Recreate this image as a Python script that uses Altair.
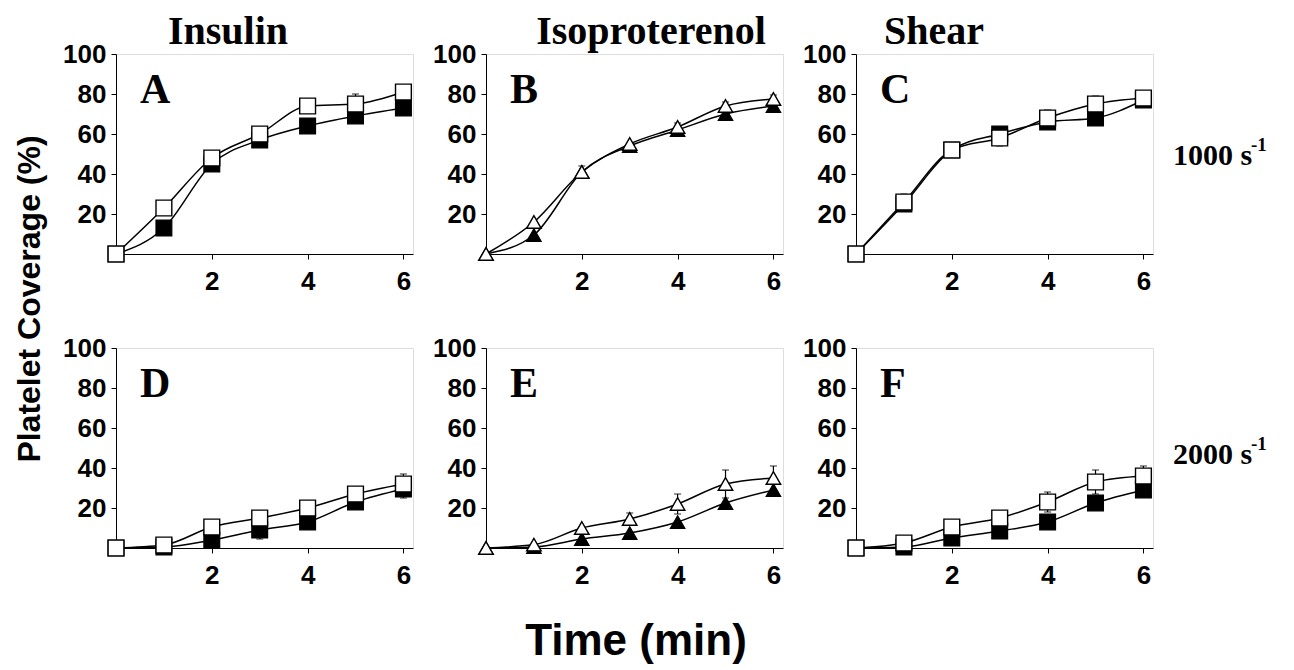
import altair as alt
import pandas as pd

# ---- data ----
t = [0, 1, 2, 3, 4, 5, 6]

A_open = [0, 23, 48, 60, 74, 75, 81]
A_filled = [0, 13, 45, 57, 64, 69, 73]
A_open_err = [0, 0, 0, 0, 0, 5, 0]
A_filled_err = [0, 0, 2, 0, 0, 0, 0]

B_open = [0, 16, 41, 55, 63.5, 74, 77.5]
B_filled = [0, 9.5, 41, 54, 62, 70, 74]
B_open_err = [0, 0, 3, 0, 2, 2, 2]
B_filled_err = [0, 0, 0, 0, 0, 0, 0]

C_open = [0, 26, 52, 58, 68, 75, 78]
C_filled = [0, 25, 52, 60, 66, 68, 77]
C_open_err = [0, 4, 0, 4, 4, 4, 0]
C_filled_err = [0, 0, 0, 0, 0, 0, 0]

D_open = [0, 1.5, 10.5, 15, 20, 27, 32]
D_filled = [0, 0.5, 4, 9, 13, 23, 29.5]
D_open_err = [0, 0, 0, 3.5, 3.5, 0, 5]
D_filled_err = [0, 0, 0, 4.5, 0, 0, 4.5]

E_open = [0, 1.7, 10, 14.5, 22, 32, 35]
E_filled = [0, 0.5, 4.5, 7.5, 13, 22.5, 29]
E_open_err = [0, 0, 0, 3, 5, 7, 6]
E_filled_err = [0, 0, 0, 0, 0, 0, 0]

F_open = [0, 2.5, 10.5, 15, 23, 33, 36]
F_filled = [0, 0.5, 5, 8.5, 13, 22.5, 29]
F_open_err = [0, 0, 0, 3, 5, 6, 5]
F_filled_err = [0, 0, 0, 0, 0, 0, 0]

col_titles = ["Insulin", "Isoproterenol", "Shear"]
letters = ["A", "B", "C", "D", "E", "F"]
row_labels = ["1000 s", "2000 s"]
row_sup = "-1"
y_title = "Platelet Coverage (%)"
x_title = "Time (min)"
y_ticks = [0, 20, 40, 60, 80, 100]
x_ticks = [0, 2, 4, 6]

SANS = "Liberation Sans"
SERIF = "Liberation Serif"
W, H = 297, 200

x_enc = alt.X("t:Q", scale=alt.Scale(domain=[0, 6.2], nice=False),
              axis=alt.Axis(values=x_ticks, labelExpr="datum.value == 0 ? '' : datum.label",
                            title=None, grid=False, domainColor="black", tickColor="black",
                            tickSize=5, labelFont=SANS, labelFontWeight="bold", labelFontSize=26,
                            labelColor="black", labelPadding=9, labelFlush=False))
y_axis = alt.Axis(values=y_ticks, labelExpr="datum.value == 0 ? '' : datum.label",
                  title=None, grid=False, domainColor="black", tickColor="black",
                  tickSize=5, labelFont=SANS, labelFontWeight="bold", labelFontSize=26,
                  labelColor="black", labelPadding=5, labelFlush=False)
y_scale = alt.Scale(domain=[0, 100], nice=False)


def text_layer(txt, x, y, font, size, align="left", angle=0, baseline="alphabetic"):
    return alt.Chart(pd.DataFrame({"s": [txt]})).mark_text(
        font=font, fontSize=size, fontWeight="bold", color="black",
        align=align, baseline=baseline, angle=angle
    ).encode(text="s:N", x=alt.value(x), y=alt.value(y))


def panel(open_v, filled_v, open_e, filled_e, shape, size, letter, extras):
    rows = []
    for series, vals, errs in (("filled", filled_v, filled_e), ("open", open_v, open_e)):
        for ti, v, e in zip(t, vals, errs):
            rows.append({"t": ti, "v": v, "e": e, "lo": v - e, "hi": v + e, "series": series})
    df = pd.DataFrame(rows)
    base = alt.Chart(df)
    y_enc = alt.Y("v:Q", scale=y_scale, axis=y_axis)
    lines = base.mark_line(interpolate="monotone", color="black", strokeWidth=1.5).encode(
        x=x_enc, y=y_enc, detail="series:N")
    errb = base.transform_filter("datum.e > 0")
    rules = errb.mark_rule(color="black", strokeWidth=1.2).encode(
        x=x_enc, y=alt.Y("lo:Q", scale=y_scale, axis=y_axis), y2="hi:Q")
    cap_hi = errb.mark_tick(orient="horizontal", size=7, thickness=1.2, color="black").encode(
        x=x_enc, y=alt.Y("hi:Q", scale=y_scale, axis=y_axis))
    cap_lo = errb.mark_tick(orient="horizontal", size=7, thickness=1.2, color="black").encode(
        x=x_enc, y=alt.Y("lo:Q", scale=y_scale, axis=y_axis))
    pf = base.transform_filter("datum.series == 'filled'").mark_point(
        shape=shape, filled=True, size=size, fill="black", stroke="black", strokeWidth=1.2,
        opacity=1).encode(x=x_enc, y=y_enc)
    po = base.transform_filter("datum.series == 'open'").mark_point(
        shape=shape, filled=True, size=size, fill="white", stroke="black", strokeWidth=1.4,
        opacity=1).encode(x=x_enc, y=y_enc)
    lt = text_layer(letter, 24, 49, SERIF, 42)
    return alt.layer(lines, rules, cap_hi, cap_lo, pf, po, lt, *extras).properties(width=W, height=H)


panels = [
    panel(A_open, A_filled, A_open_err, A_filled_err, "square", 250, letters[0], [
        text_layer(col_titles[0], 112, -10, SERIF, 40, align="center"),
        text_layer(y_title, -86, 245, SANS, 32, align="center", angle=270, baseline="middle"),
    ]),
    panel(B_open, B_filled, B_open_err, B_filled_err, "triangle-up", 210, letters[1], [
        text_layer(col_titles[1], 165, -10, SERIF, 40, align="center"),
    ]),
    panel(C_open, C_filled, C_open_err, C_filled_err, "square", 250, letters[2], [
        text_layer(col_titles[2], 78, -10, SERIF, 40, align="center"),
        text_layer(row_labels[0], 317, 111, SERIF, 30),
        text_layer(row_sup, 395, 97, SERIF, 19),
    ]),
    panel(D_open, D_filled, D_open_err, D_filled_err, "square", 250, letters[3], []),
    panel(E_open, E_filled, E_open_err, E_filled_err, "triangle-up", 210, letters[4], [
        text_layer(x_title, 150, 307, SANS, 44, align="center"),
    ]),
    panel(F_open, F_filled, F_open_err, F_filled_err, "square", 250, letters[5], [
        text_layer(row_labels[1], 317, 116, SERIF, 30),
        text_layer(row_sup, 395, 102, SERIF, 19),
    ]),
]

chart = alt.concat(*panels, columns=3, spacing={"row": 94, "column": 73}, bounds="flush").properties(
    padding={"left": 5, "top": 3, "right": 5, "bottom": 5}
).configure_view(stroke="black", strokeWidth=1).configure(background="white")

chart.save("out.html", embed_options={"renderer": "svg", "actions": False})
